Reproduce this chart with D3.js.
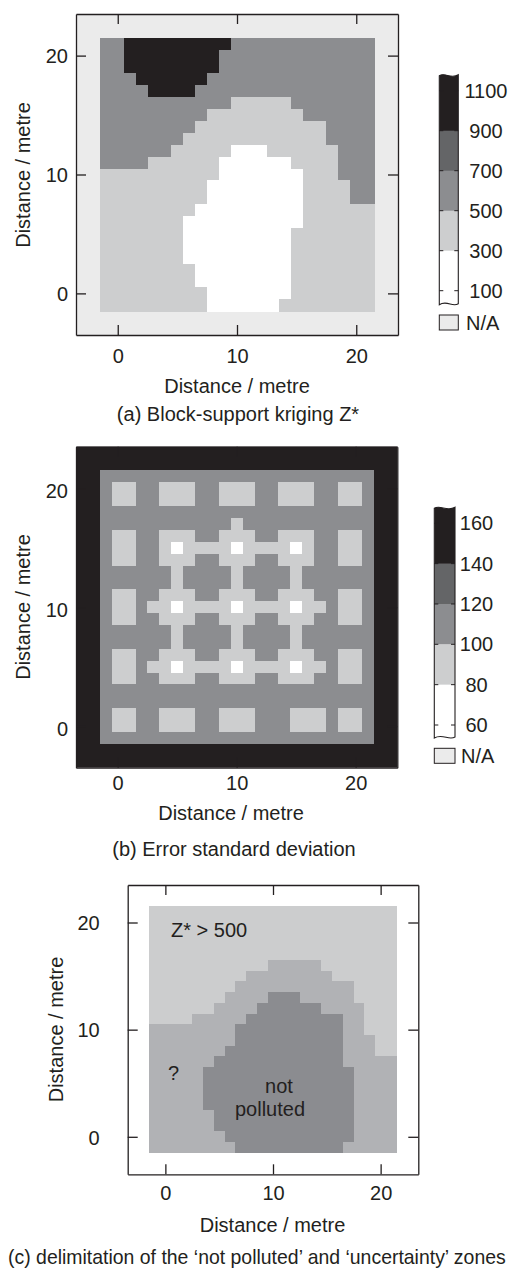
<!DOCTYPE html>
<html><head><meta charset="utf-8">
<script src="https://cdn.jsdelivr.net/npm/d3@7"></script>
<style>
body{margin:0;background:#fff;}
svg{display:block;font-family:"Liberation Sans",Arial,Helvetica,sans-serif;}
</style>
</head><body>
<svg id="chart" width="509" height="1270"></svg>
<script>
// ---------- DATA ----------
const gridCoords = [-1,0,1,2,3,4,5,6,7,8,9,10,11,12,13,14,15,16,17,18,19,20,21];
const axisTicks = [0, 10, 20];

// (a) Block-support kriging Z*: class index per cell (rows top y=21 -> bottom y=-1, cols x=-1 -> 21)
// 0: 100-300, 1: 300-500, 2: 500-700, 3: 700-900, 4: 900-1100
const zLabels = [1100, 900, 700, 500, 300, 100];
const zGrid = [
  "22444444444222222222222",
  "22444444442222222222222",
  "22444444442222222222222",
  "22244444422222222222222",
  "22224444222222222222222",
  "22222222222111112222222",
  "22222222211111111222222",
  "22222222111111111112222",
  "22222221111111111112222",
  "22222211111000111111222",
  "22221111110000001111222",
  "11111111110000000111222",
  "11111111100000000111122",
  "11111111100000000111122",
  "11111111000000000111111",
  "11111110000000000111111",
  "11111110000000001111111",
  "11111110000000001111111",
  "11111110000000001111111",
  "11111111000000001111111",
  "11111111000000001111111",
  "11111111100000001111111",
  "11111111100000011111111"
];

// (b) Error standard deviation: 0: 60-80, 1: 80-100, 2: 100-120, 3: 120-140, 4: 140-160
const sdLabels = [160, 140, 120, 100, 80, 60];
const sdGrid = [
  "22222222222222222222222",
  "21122111221112211122112",
  "21122111221112211122112",
  "22222222222222222222222",
  "22222222222122222222222",
  "21122111221112211122112",
  "21122101111011110122112",
  "21122111221112211122112",
  "22222212222122221222222",
  "22222212222122221222222",
  "21122111221112211122112",
  "21121101111011110112112",
  "21122111221112211122112",
  "22222212222122221222222",
  "22222212222122221222222",
  "21122111221112211122112",
  "21121101111011110112112",
  "21122111221112211122112",
  "22222222222222222222222",
  "22222222222222222222222",
  "21122111221112221112112",
  "21122111221112221112112",
  "22222222222222222222222"
];

// (c) zones: 0: not polluted, 1: uncertainty (?), 2: Z* > 500
const zoneGrid = [
  "22222222222222222222222",
  "22222222222222222222222",
  "22222222222222222222222",
  "22222222222222222222222",
  "22222222222222222222222",
  "22222222222111112222222",
  "22222222211111111222222",
  "22222222111111111112222",
  "22222221111000111112222",
  "22222211110000001111222",
  "22221111100000000011222",
  "11111111000000000011222",
  "11111111000000000011122",
  "11111110000000000011122",
  "11111100000000000011111",
  "11111000000000000001111",
  "11111000000000000001111",
  "11111000000000000001111",
  "11111000000000000001111",
  "11111100000000000001111",
  "11111100000000000001111",
  "11111110000000000001111",
  "11111111000000000011111"
];
const zoneTexts = ["Z* > 500", "?", "not", "polluted"];
const captions = [
  "(a) Block-support kriging Z*",
  "(b) Error standard deviation",
  "(c) delimitation of the \u2018not polluted\u2019 and \u2018uncertainty\u2019 zones"
];
const axisTitle = "Distance / metre";

// ---------- STYLE ----------
const INK = "#231f20";
const grays = ["#ffffff", "#cdcecf", "#8c8d90", "#646567", "#231f20"];
const zoneColors = ["#8b8c90", "#b1b2b5", "#cccdce"];
const FS = 20;

const svg = d3.select("#chart");

function drawPanel(cfg) {
  const x = d3.scaleLinear().domain([-3.5, 23.5]).range([cfg.x0, cfg.x1]);
  const y = d3.scaleLinear().domain([-3.5, 23.5]).range([cfg.y1, cfg.y0]);
  const g = svg.append("g");
  g.append("rect").attr("x", cfg.x0).attr("y", cfg.y0)
    .attr("width", cfg.x1 - cfg.x0).attr("height", cfg.y1 - cfg.y0)
    .attr("fill", cfg.bg);
  const cells = [];
  cfg.grid.forEach((row, r) => row.split("").forEach((ch, c) =>
    cells.push({ x: gridCoords[c], y: gridCoords[gridCoords.length - 1 - r], k: +ch })));
  g.append("g").attr("shape-rendering", "crispEdges").selectAll("rect").data(cells).join("rect")
    .attr("x", d => x(d.x - 0.5))
    .attr("y", d => y(d.y + 0.5))
    .attr("width", d => x(d.x + 0.5) - x(d.x - 0.5) + 0.5)
    .attr("height", d => y(d.y - 0.5) - y(d.y + 0.5) + 0.5)
    .attr("fill", d => cfg.colors[d.k]);

  const styleAxis = (ax) => {
    ax.selectAll("path.domain").attr("stroke", INK).attr("stroke-width", 1.3);
    ax.selectAll(".tick line").attr("stroke", INK).attr("stroke-width", 1.3);
    ax.selectAll("text").attr("font-size", FS).attr("fill", INK)
      .attr("font-family", '"Liberation Sans",Arial,sans-serif');
  };
  const bottom = g.append("g").attr("transform", `translate(0,${cfg.y1})`)
    .call(d3.axisBottom(x).tickValues(axisTicks).tickSize(-10).tickSizeOuter(0).tickPadding(cfg.padX));
  const left = g.append("g").attr("transform", `translate(${cfg.x0},0)`)
    .call(d3.axisLeft(y).tickValues(axisTicks).tickSize(-10).tickSizeOuter(0).tickPadding(cfg.padY));
  const top = g.append("g").attr("transform", `translate(0,${cfg.y0})`)
    .call(d3.axisTop(x).tickValues(axisTicks).tickSize(-10).tickSizeOuter(0).tickFormat(""));
  const right = g.append("g").attr("transform", `translate(${cfg.x1},0)`)
    .call(d3.axisRight(y).tickValues(axisTicks).tickSize(-10).tickSizeOuter(0).tickFormat(""));
  [bottom, left, top, right].forEach(styleAxis);
  left.selectAll("text").attr("dy", cfg.dyY);

  g.append("text").attr("x", cfg.xTitleX).attr("y", cfg.xTitleY)
    .attr("text-anchor", "middle").attr("font-size", FS).attr("fill", INK).text(axisTitle);
  g.append("text").attr("transform", `translate(${cfg.yTitleX},${cfg.yTitleY}) rotate(-90)`)
    .attr("text-anchor", "middle").attr("font-size", FS).attr("fill", INK).text(axisTitle);
  const cap = g.append("text").attr("x", cfg.capX).attr("y", cfg.capY)
    .attr("text-anchor", cfg.capAnchor).attr("font-size", FS).attr("fill", INK).text(cfg.caption);
  // keep the caption inside the page: shrink the font if it would run past the right edge
  const avail = 509 - cfg.capX - 3;
  const w = cap.node().getComputedTextLength();
  if (cfg.capAnchor === "start" && w > avail) cap.attr("font-size", FS * avail / w);
  return { x, y, g };
}

function wavyBar(x0, x1, top, bot) {
  const w = x1 - x0;
  return `M${x0},${top} C${x0 + w * 0.3},${top - 4} ${x0 + w * 0.6},${top + 4} ${x1},${top - 1} ` +
         `L${x1},${bot} C${x0 + w * 0.7},${bot + 4} ${x0 + w * 0.4},${bot - 4} ${x0},${bot + 1} Z`;
}

function drawLegend(cfg) {
  const s = d3.scaleLinear().domain([cfg.labels[0], cfg.labels[cfg.labels.length - 1]]).range([cfg.yTop, cfg.yBot]);
  const top = s(cfg.labels[0]) - cfg.extTop, bot = s(cfg.labels[cfg.labels.length - 1]) + cfg.extBot;
  const id = "clip" + cfg.id;
  svg.append("clipPath").attr("id", id).append("path").attr("d", wavyBar(cfg.x0, cfg.x1, top, bot));
  const inner = cfg.labels.slice(1, -1);
  const edges = [top - 5].concat(inner.map(v => s(v))).concat([bot + 5]);
  const bands = d3.range(edges.length - 1).map(i => ({ y0: edges[i], y1: edges[i + 1], k: edges.length - 2 - i }));
  const g = svg.append("g");
  g.append("g").attr("clip-path", `url(#${id})`).selectAll("rect").data(bands).join("rect")
    .attr("x", cfg.x0).attr("width", cfg.x1 - cfg.x0)
    .attr("y", d => d.y0).attr("height", d => d.y1 - d.y0 + 0.3)
    .attr("fill", d => grays[d.k]);
  g.selectAll("line.tl").data(cfg.labels).join("line")
    .attr("x1", cfg.x0).attr("x2", cfg.x0 + 4).attr("y1", d => s(d)).attr("y2", d => s(d))
    .attr("stroke", INK).attr("stroke-width", 1);
  g.selectAll("line.tr").data(cfg.labels).join("line")
    .attr("x1", cfg.x1 - 4).attr("x2", cfg.x1).attr("y1", d => s(d)).attr("y2", d => s(d))
    .attr("stroke", INK).attr("stroke-width", 1);
  g.append("path").attr("d", wavyBar(cfg.x0, cfg.x1, top, bot))
    .attr("fill", "none").attr("stroke", INK).attr("stroke-width", 1.1);
  g.selectAll("text.lab").data(cfg.labels).join("text")
    .attr("x", cfg.labX).attr("y", d => s(d) + 7).attr("text-anchor", "middle")
    .attr("font-size", FS).attr("fill", INK).text(d => d);
  g.append("rect").attr("x", cfg.x0).attr("y", cfg.naY).attr("width", cfg.x1 - cfg.x0).attr("height", 15)
    .attr("fill", "#ebebeb").attr("stroke", INK).attr("stroke-width", 1);
  g.append("text").attr("x", cfg.naX).attr("y", cfg.naY + 14.5).attr("font-size", FS).attr("fill", INK).text("N/A");
}

// (a)
drawPanel({ x0: 76, x1: 398, y0: 14, y1: 335, bg: "#ebebeb", grid: zGrid, colors: grays,
  padX: 14, padY: 8, dyY: "0.36em", xTitleX: 237, xTitleY: 393, yTitleX: 30, yTitleY: 175,
  capX: 238, capY: 421, capAnchor: "middle", caption: captions[0] });
drawLegend({ id: "a", labels: zLabels, x0: 439.3, x1: 458.3, yTop: 90.7, yBot: 290.7, extTop: 15, extBot: 13,
  labX: 486, naY: 315, naX: 466 });

// (b)
drawPanel({ x0: 76, x1: 397.3, y0: 446.7, y1: 767.7, bg: "#231f20", grid: sdGrid, colors: grays,
  padX: 8, padY: 8, dyY: "0.45em", xTitleX: 231, xTitleY: 820, yTitleX: 30, yTitleY: 607,
  capX: 234, capY: 856, capAnchor: "middle", caption: captions[1] });
drawLegend({ id: "b", labels: sdLabels, x0: 434.3, x1: 455, yTop: 523.3, yBot: 725, extTop: 15, extBot: 12,
  labX: 476.5, naY: 748.3, naX: 461 });

// (c)
const pc = drawPanel({ x0: 127.7, x1: 418.3, y0: 885, y1: 1174.3, bg: "#ffffff", grid: zoneGrid, colors: zoneColors,
  padX: 12, padY: 28, dyY: "0.36em", xTitleX: 272.5, xTitleY: 1231.5, yTitleX: 63, yTitleY: 1029.5,
  capX: 8, capY: 1264, capAnchor: "start", caption: captions[2] });
const ann = [
  { t: zoneTexts[0], x: 171, y: 936.7, a: "start" },
  { t: zoneTexts[1], x: 168, y: 1080, a: "start" },
  { t: zoneTexts[2], x: 279, y: 1093.3, a: "middle" },
  { t: zoneTexts[3], x: 270, y: 1116.3, a: "middle" }
];
pc.g.selectAll("text.ann").data(ann).join("text")
  .attr("x", d => d.x).attr("y", d => d.y).attr("text-anchor", d => d.a)
  .attr("font-size", FS).attr("fill", INK).text(d => d.t);
</script>
</body></html>
